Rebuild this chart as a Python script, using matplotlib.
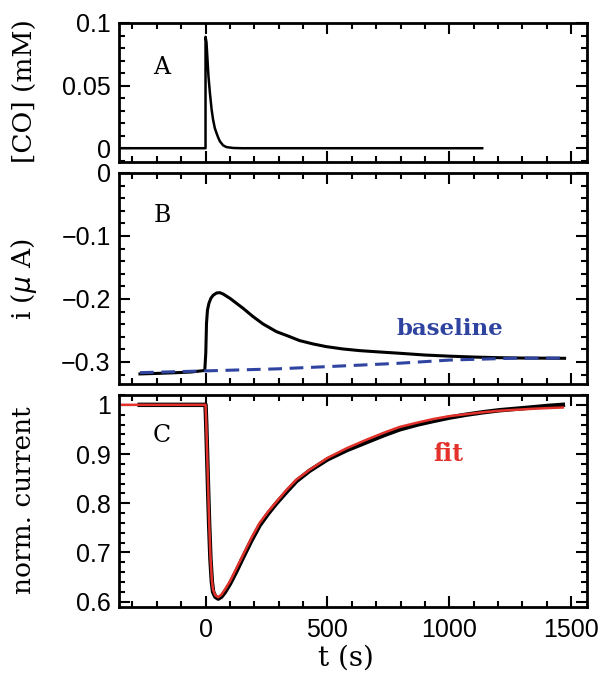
import matplotlib
matplotlib.use("Agg")
import matplotlib.pyplot as plt
from matplotlib.ticker import MultipleLocator

# panel A: CO concentration pulse (mM)
co_t = [-350, 0, 0, 4, 8, 12, 18, 25, 31, 38, 45, 52, 59, 72, 86, 113, 150, 1135]
co_val = [0, 0, 0.089, 0.0845, 0.0708, 0.0575, 0.0441, 0.0308, 0.0228, 0.0161,
          0.0121, 0.0085, 0.0055, 0.0023, 0.0009, 0.0002, 0, 0]

# panel B: raw current (uA) and baseline
cur_t = [-269, -200, -130, -60, -10, -3, 1, 4, 8, 14, 22, 31, 45, 59, 72,
         100, 127, 154, 195, 236, 291, 345, 386, 441, 496, 564, 632, 700,
         796, 900, 1000, 1100, 1200, 1300, 1400, 1473]
cur_val = [-0.319, -0.3182, -0.3172, -0.316, -0.3138, -0.3127, -0.2862,
           -0.2386, -0.2175, -0.2069, -0.1989, -0.1942, -0.1905, -0.190,
           -0.1921, -0.1989, -0.2069, -0.2148, -0.2280, -0.2397, -0.2519,
           -0.2598, -0.2661, -0.2714, -0.2757, -0.2794, -0.2820, -0.2838,
           -0.2862, -0.2890, -0.2908, -0.2922, -0.2932, -0.2938, -0.2940,
           -0.2942]
base_t = [-269, -10, 291, 523, 619, 796, 1001, 1070, 1275, 1473]
base_val = [-0.317, -0.3143, -0.311, -0.307, -0.3053, -0.302, -0.297, -0.2962,
            -0.294, -0.2938]

# panel C: normalised current and fit
norm_t = [-270, 0, 3, 7, 11, 15, 20, 26, 31, 40, 52, 65, 79, 100, 127, 154,
          188, 222, 257, 291, 332, 373, 427, 500, 580, 660, 730, 796, 870,
          933, 1000, 1070, 1140, 1206, 1275, 1343, 1410, 1466]
norm_val = [1.0, 1.0, 0.96, 0.89, 0.82, 0.755, 0.688, 0.640, 0.620, 0.610,
            0.606, 0.610, 0.619, 0.636, 0.662, 0.690, 0.724, 0.755, 0.779,
            0.800, 0.823, 0.845, 0.866, 0.889, 0.908, 0.924, 0.938, 0.950,
            0.960, 0.967, 0.974, 0.980, 0.985, 0.989, 0.992, 0.995, 0.998, 1.0]
fit_t = [-355, 0, 3, 7, 11, 15, 20, 26, 31, 40, 52, 65, 79, 100, 127, 154,
         188, 222, 257, 291, 332, 373, 427, 500, 580, 660, 730, 796, 870,
         933, 1000, 1070, 1140, 1206, 1275, 1343, 1410, 1466]
fit_val = [1.0, 1.0, 0.963, 0.895, 0.827, 0.760, 0.692, 0.644, 0.624, 0.613,
           0.609, 0.614, 0.624, 0.641, 0.668, 0.695, 0.729, 0.760, 0.783,
           0.803, 0.827, 0.848, 0.868, 0.892, 0.912, 0.929, 0.943, 0.955,
           0.964, 0.971, 0.977, 0.981, 0.985, 0.988, 0.990, 0.992, 0.9935,
           0.9946]

a_ticks = [0, 0.05, 0.1]
a_labels = ["0", "0.05", "0.1"]
b_ticks = [0, -0.1, -0.2, -0.3]
b_labels = ["0", "\u22120.1", "\u22120.2", "\u22120.3"]
c_ticks = [0.6, 0.7, 0.8, 0.9, 1.0]
c_labels = ["0.6", "0.7", "0.8", "0.9", "1"]
x_ticks = [0, 500, 1000, 1500]
x_labels = ["0", "500", "1000", "1500"]

tick_font = "Liberation Sans"
lab_font = "DejaVu Serif"
blue = "#2f44a0"
red = "#e2322b"

fig = plt.figure(figsize=(6.03, 6.75), dpi=100)
W, H = 603, 675
left, width = 119 / W, 468 / W


def make_ax(top, bottom):
    ax = fig.add_axes([left, 1 - bottom / H, width, (bottom - top) / H])
    ax.set_xlim(-355, 1565)
    ax.xaxis.set_major_locator(MultipleLocator(500))
    ax.xaxis.set_minor_locator(MultipleLocator(100))
    ax.tick_params(which="both", direction="in", top=True, right=True,
                   width=1.5, labelsize=18, pad=6)
    ax.tick_params(which="major", length=8)
    ax.tick_params(which="minor", length=4)
    for s in ax.spines.values():
        s.set_linewidth(2)
    return ax


axA = make_ax(23, 162)
axB = make_ax(173, 384)
axC = make_ax(395, 607)

# A
axA.plot(co_t, co_val, color="black", lw=1.8)
axA.set_ylim(-0.011, 0.1)
axA.set_yticks(a_ticks)
axA.set_yticklabels(a_labels, family=tick_font)
axA.yaxis.set_minor_locator(MultipleLocator(0.01))
axA.set_xticklabels([])
axA.text(-179, 0.0644, "A", family=lab_font, fontsize=17,
         ha="center", va="center")

# B
axB.plot(cur_t, cur_val, color="black", lw=2.2)
axB.plot(base_t, base_val, color=blue, lw=2.2, dashes=(4.5, 2.5))
axB.set_ylim(-0.335, 0)
axB.set_yticks(b_ticks)
axB.set_yticklabels(b_labels, family=tick_font)
axB.yaxis.set_minor_locator(MultipleLocator(0.02))
axB.set_xticklabels([])
axB.text(-179, -0.0667, "B", family=lab_font, fontsize=17,
         ha="center", va="center")
axB.text(1001, -0.2476, "baseline", family=lab_font, weight="bold",
         fontsize=16.5, color=blue, ha="center", va="center")

# C
axC.plot(norm_t, norm_val, color="black", lw=3.2)
axC.plot(fit_t, fit_val, color=red, lw=1.8)
axC.set_ylim(0.589, 1.02)
axC.set_yticks(c_ticks)
axC.set_yticklabels(c_labels, family=tick_font)
axC.yaxis.set_minor_locator(MultipleLocator(0.02))
axC.set_xticks(x_ticks)
axC.set_xticklabels(x_labels, family=tick_font)
axC.tick_params(axis="x", pad=8)
axC.text(-179, 0.937, "C", family=lab_font, fontsize=17,
         ha="center", va="center")
axC.text(997, 0.900, "fit", family=lab_font, weight="bold", fontsize=17,
         color=red, ha="center", va="center")

# axis labels
fig.text(24 / W, 1 - 91 / H, "[CO] (mM)", family=lab_font, fontsize=19,
         rotation=90, ha="center", va="center")
fig.text(24 / W, 1 - 279 / H, "i ($\\mu$ A)", family=lab_font, fontsize=19,
         rotation=90, ha="center", va="center")
fig.text(24 / W, 1 - 500 / H, "norm. current", family=lab_font, fontsize=19,
         rotation=90, ha="center", va="center")
fig.text(346 / W, 1 - 658 / H, "t (s)", family=lab_font, fontsize=20,
         ha="center", va="center")

fig.savefig("out.png", dpi=100)
